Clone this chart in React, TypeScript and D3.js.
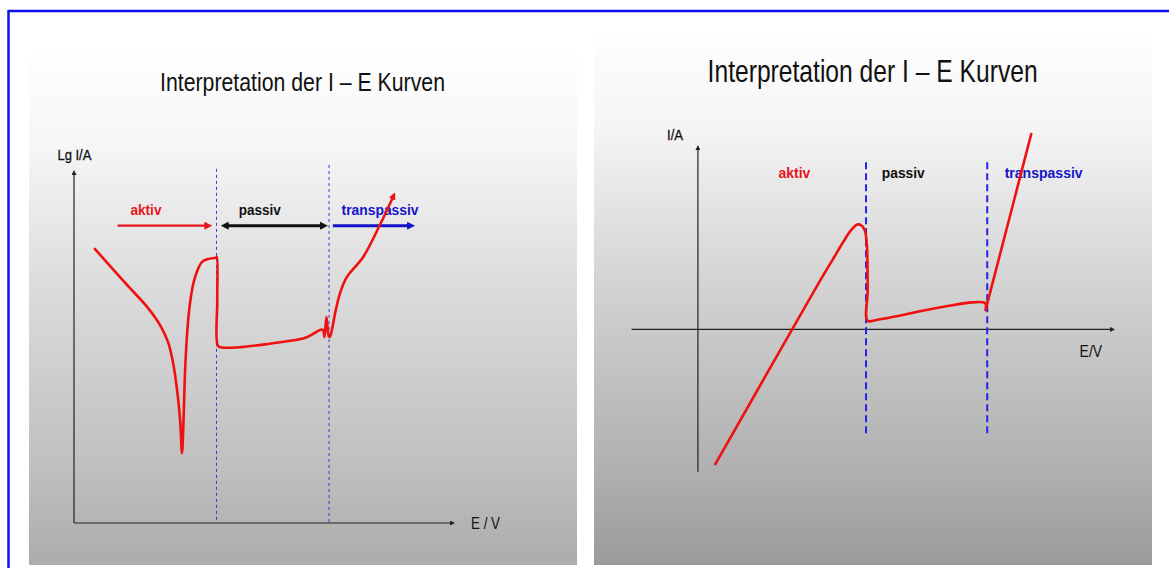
import React from 'react';
import * as d3 from 'd3';

// ---------- DATA ----------
// Left chart: log current vs potential (arbitrary units 0..100)
const leftE = [5.5, 13.5, 19.5, 22.7, 24.8, 26.1, 27.2, 28.0, 28.5, 28.9, 29.4, 30.3, 31.4, 32.5, 33.8, 35.4, 37.5, 37.7, 37.8, 38.0, 39.1, 43.8, 51.2, 57.0, 60.9, 63.3, 64.9, 65.7, 66.1, 66.6, 67.2, 67.5, 68.2, 68.9, 70.2, 72.0, 76.3, 80.7, 84.4];
const leftLgI = [78.1, 68.4, 61.3, 56.4, 51.6, 45.9, 37.9, 29.3, 19.9, 29.3, 45.6, 59.8, 67.8, 71.8, 74.4, 75.2, 75.6, 75.8, 63.5, 50.4, 50.0, 50.1, 51.0, 51.9, 52.7, 54.0, 55.0, 55.0, 53.0, 58.7, 53.3, 53.0, 55.8, 59.8, 65.5, 70.1, 75.8, 84.9, 93.4];
const leftBoundaries = [37.6, 67.3];
const leftBoundaryTop = [100.9, 102.0];
const regionNames = ['aktiv', 'passiv', 'transpassiv'];
const leftArrowFrom = [11.5, 38.7, 68.3];
const leftArrowTo = [36.5, 67.0, 90.0];
const leftLabelE = [14.9, 43.5, 70.6];

// Right chart: linear current vs potential
const rightE = [4.2, 22.7, 29.5, 32.4, 35.0, 36.9, 38.4, 39.3, 40.2, 40.7, 40.9, 40.9, 43.9, 69.2, 69.3, 69.7, 80.3];
const rightI = [-73.8, 0, 27.0, 38.0, 47.9, 54.4, 57.5, 57.2, 54.4, 46.2, 21.5, 4.8, 5.6, 14.4, 10.6, 14.1, 107.1];
const rightBoundaries = [40.5, 69.7];
const rightBoundaryRange = [91.7, -59.0];
const rightLabelE = [19.4, 44.3, 73.9];

const titleText = 'Interpretation der I – E Kurven';
const regionColors = ['#e8141c', '#111111', '#1414c8'];

// ---------- LAYOUT ----------
const W = 1169;
const H = 568;

const xL = d3.scaleLinear().domain([0, 100]).range([74, 453]);
const yL = d3.scaleLinear().domain([0, 100]).range([523, 172]);
const xR = d3.scaleLinear().domain([-16, 100]).range([631.5, 1113]);
const yR = d3.scaleLinear().domain([-78, 100]).range([471.7, 147]);

const RED = '#f01010';

export default function App() {
  const leftPts: [number, number][] = leftE.map((e, i) => [xL(e), yL(leftLgI[i])]);
  const rightPts: [number, number][] = rightE.map((e, i) => [xR(e), yR(rightI[i])]);
  const curve = d3.line().curve(d3.curveCatmullRom.alpha(0.5));
  const leftPath = curve(leftPts) || '';
  const rightPath = curve(rightPts) || '';

  const arrowY = yL(84.7);
  const labelYL = yL(87.7);
  const labelYR = yR(82.8);
  const headLen = 6.4;

  return (
    <div style={{ position: 'absolute', left: 0, top: 0 }}>
      <svg width={W} height={H} style={{ display: 'block' }} fontFamily="'Liberation Sans', Arial, sans-serif">
        <defs>
          <linearGradient id="gL" x1="0" y1="0" x2="0" y2="1">
            <stop offset="0" stopColor="#fefefe" />
            <stop offset="0.18" stopColor="#f6f6f6" />
            <stop offset="0.45" stopColor="#dcdcdc" />
            <stop offset="0.8" stopColor="#c0c0c0" />
            <stop offset="1" stopColor="#acacac" />
          </linearGradient>
          <linearGradient id="gR" x1="0" y1="0" x2="0" y2="1">
            <stop offset="0" stopColor="#fefefe" />
            <stop offset="0.18" stopColor="#f5f5f5" />
            <stop offset="0.47" stopColor="#d3d3d3" />
            <stop offset="0.82" stopColor="#b0b0b0" />
            <stop offset="1" stopColor="#9b9b9b" />
          </linearGradient>
          {regionColors.map((c, i) => (
            <marker key={i} id={`ah${i}`} viewBox="0 0 10 10" refX="2" refY="5" markerWidth="8" markerHeight="8" markerUnits="userSpaceOnUse" orient="auto-start-reverse">
              <path d="M0,0 L10,5 L0,10 z" fill={c} />
            </marker>
          ))}
          <marker id="axA" viewBox="0 0 10 10" refX="2" refY="5" markerWidth="6" markerHeight="5" markerUnits="userSpaceOnUse" orient="auto">
            <path d="M0,0 L10,5 L0,10 z" fill="#222" />
          </marker>
          <marker id="redTip" viewBox="0 0 10 10" refX="6" refY="5" markerWidth="8" markerHeight="7" markerUnits="userSpaceOnUse" orient="auto">
            <path d="M0,0 L10,5 L0,10 z" fill={RED} />
          </marker>
        </defs>

        <rect x={0} y={0} width={W} height={H} fill="#ffffff" />

        {/* outer blue frame */}
        <line x1={8} y1={11} x2={W} y2={11} stroke="#1010f0" strokeWidth={2.5} />
        <line x1={8.5} y1={10} x2={8.5} y2={H} stroke="#1010f0" strokeWidth={2.5} />

        {/* ---------- LEFT PANEL ---------- */}
        <rect x={29} y={54} width={548} height={511} fill="url(#gL)" />
        <text x={302.5} y={90.5} fontSize={26} textAnchor="middle" textLength={285} lengthAdjust="spacingAndGlyphs" fill="#111" fontFamily="'Liberation Sans Narrow', 'Liberation Sans', Arial, sans-serif">{titleText}</text>

        {/* axes */}
        <line x1={xL(0)} y1={yL(0)} x2={xL(0)} y2={yL(100) + 2} stroke="#222" strokeWidth={1.2} markerEnd="url(#axA)" />
        <line x1={xL(0)} y1={yL(0)} x2={xL(100) - 2} y2={yL(0)} stroke="#222" strokeWidth={1.2} markerEnd="url(#axA)" />
        <text x={57.4} y={160} fontSize={14} textLength={34} lengthAdjust="spacingAndGlyphs" fill="#111" stroke="#111" strokeWidth={0.3}>Lg I/A</text>
        <text x={471} y={529} fontSize={16} textLength={29} lengthAdjust="spacingAndGlyphs" fill="#111">E / V</text>

        {/* region boundaries */}
        {leftBoundaries.map((b, i) => (
          <line key={i} x1={xL(b)} x2={xL(b)} y1={yL(leftBoundaryTop[i])} y2={yL(0)} stroke="#3a3ad8" strokeWidth={1} strokeDasharray="3,3" />
        ))}

        {/* region arrows */}
        {regionNames.map((n, i) => {
          const x1 = xL(leftArrowFrom[i]) + (i === 1 ? headLen : 0);
          const x2 = xL(leftArrowTo[i]) - headLen;
          return (
            <line key={n} x1={x1} x2={x2} y1={arrowY} y2={arrowY} stroke={regionColors[i]} strokeWidth={i === 0 ? 2.2 : 3}
              markerEnd={`url(#ah${i})`} markerStart={i === 1 ? `url(#ah${i})` : undefined} />
          );
        })}
        {regionNames.map((n, i) => (
          <text key={n} x={xL(leftLabelE[i])} y={labelYL} fontSize={14} fontWeight="bold" fill={regionColors[i]}
            textLength={[31, 42, 77][i]} lengthAdjust="spacingAndGlyphs">{n}</text>
        ))}

        <path d={leftPath} fill="none" stroke={RED} strokeWidth={2.6} strokeLinejoin="round" strokeLinecap="round" markerEnd="url(#redTip)" />

        {/* ---------- RIGHT PANEL ---------- */}
        <rect x={594} y={31} width={558} height={534} fill="url(#gR)" />
        <text x={872.6} y={81.7} fontSize={32} textAnchor="middle" textLength={330} lengthAdjust="spacingAndGlyphs" fill="#111" fontFamily="'Liberation Sans Narrow', 'Liberation Sans', Arial, sans-serif">{titleText}</text>

        <line x1={xR(0)} y1={yR(-78)} x2={xR(0)} y2={yR(100) + 2} stroke="#222" strokeWidth={1.2} markerEnd="url(#axA)" />
        <line x1={xR(-16)} y1={yR(0)} x2={xR(100) - 2} y2={yR(0)} stroke="#222" strokeWidth={1.2} markerEnd="url(#axA)" />
        <text x={667} y={140} fontSize={15} textLength={16} lengthAdjust="spacingAndGlyphs" fill="#111" stroke="#111" strokeWidth={0.3}>I/A</text>
        <text x={1079.6} y={356.7} fontSize={16} textLength={22.5} lengthAdjust="spacingAndGlyphs" fill="#111">E/V</text>

        {rightBoundaries.map((b, i) => (
          <line key={i} x1={xR(b)} x2={xR(b)} y1={yR(rightBoundaryRange[0])} y2={yR(rightBoundaryRange[1])} stroke="#2424ee" strokeWidth={2} strokeDasharray="7,4" />
        ))}

        {regionNames.map((n, i) => (
          <text key={n} x={xR(rightLabelE[i])} y={labelYR} fontSize={15.5} fontWeight="bold" fill={regionColors[i]}
            textLength={[32, 43, 78][i]} lengthAdjust="spacingAndGlyphs">{n}</text>
        ))}

        <path d={rightPath} fill="none" stroke={RED} strokeWidth={2.6} strokeLinejoin="round" strokeLinecap="round" />
      </svg>
    </div>
  );
}
